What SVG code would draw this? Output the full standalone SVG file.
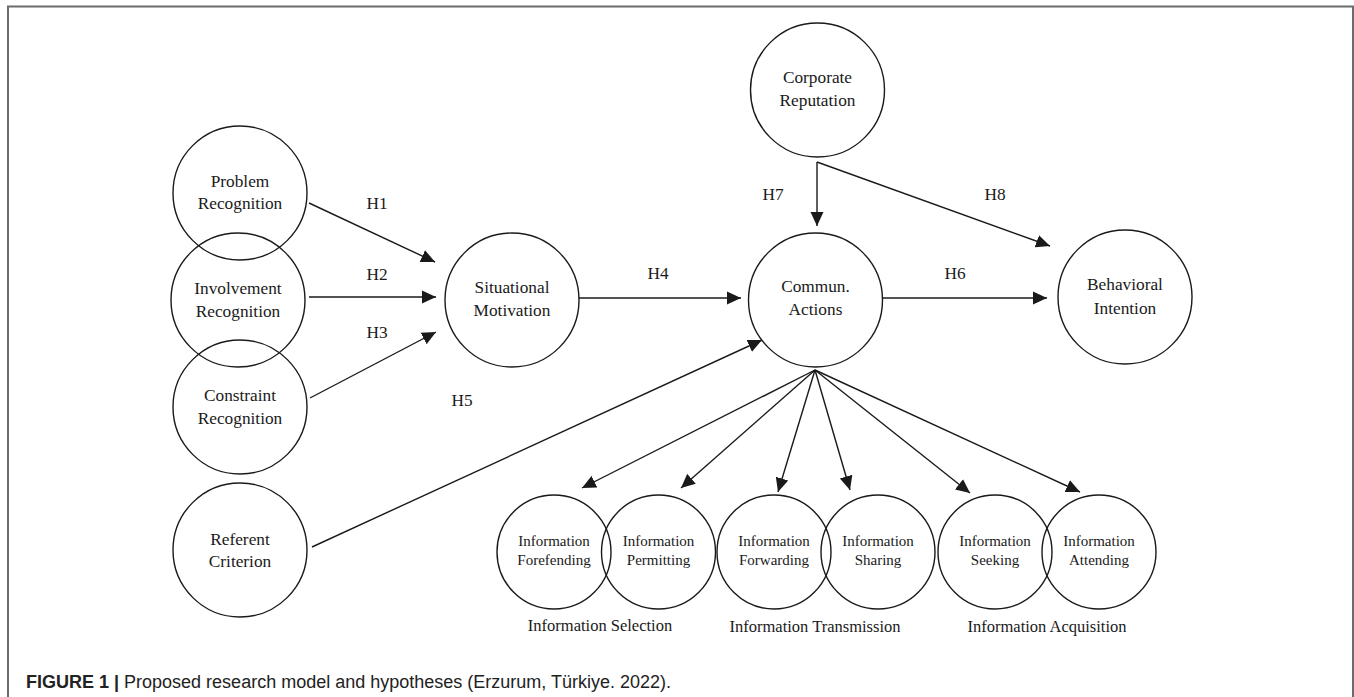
<svg xmlns="http://www.w3.org/2000/svg" width="1354" height="697" viewBox="0 0 1354 697">
<style>
.c{fill:none;stroke:#1a1a1a;stroke-width:1.4}
.t{font-family:"Liberation Serif","Times New Roman",serif;font-size:17.3px;fill:#1a1a1a;text-anchor:middle}
.s{font-family:"Liberation Serif","Times New Roman",serif;font-size:15px;fill:#1a1a1a;text-anchor:middle}
.g{font-family:"Liberation Serif","Times New Roman",serif;font-size:16.5px;fill:#1a1a1a;text-anchor:middle}
.l{stroke:#1a1a1a;stroke-width:1.4;fill:none;marker-end:url(#ah)}
.cap{font-family:"Liberation Sans",Arial,sans-serif;font-size:18px;fill:#222}
</style>
<defs>
<marker id="ah" markerUnits="userSpaceOnUse" viewBox="0 0 14 14" markerWidth="14" markerHeight="14" refX="14" refY="7" orient="auto">
<path d="M0,0.5 L14,7 L0,13.5 z" fill="#1a1a1a"/>
</marker>
</defs>
<rect width="1354" height="697" fill="#fff"/>
<path d="M8,697 V6.5 H1353 V697" fill="none" stroke="#6b6b6b" stroke-width="2"/>

<g id="problem-recognition"><circle class="c" cx="240" cy="193" r="67"/><text class="t" x="240" y="187">Problem</text><text class="t" x="240" y="209">Recognition</text></g>
<g id="involvement-recognition"><circle class="c" cx="238" cy="300" r="67"/><text class="t" x="238" y="294">Involvement</text><text class="t" x="238" y="317">Recognition</text></g>
<g id="constraint-recognition"><circle class="c" cx="240" cy="407" r="67"/><text class="t" x="240" y="401">Constraint</text><text class="t" x="240" y="424">Recognition</text></g>
<g id="referent-criterion"><circle class="c" cx="240" cy="550" r="67"/><text class="t" x="240" y="545">Referent</text><text class="t" x="240" y="567">Criterion</text></g>
<g id="situational-motivation"><circle class="c" cx="512" cy="300" r="67"/><text class="t" x="512" y="293">Situational</text><text class="t" x="512" y="316">Motivation</text></g>
<g id="commun-actions"><circle class="c" cx="815.5" cy="300" r="67"/><text class="t" x="815.5" y="292">Commun.</text><text class="t" x="815.5" y="315">Actions</text></g>
<g id="corporate-reputation"><circle class="c" cx="817.5" cy="90" r="67"/><text class="t" x="817.5" y="83">Corporate</text><text class="t" x="817.5" y="106">Reputation</text></g>
<g id="behavioral-intention"><circle class="c" cx="1125" cy="297" r="67"/><text class="t" x="1125" y="290">Behavioral</text><text class="t" x="1125" y="314">Intention</text></g>

<g id="information-forefending"><circle class="c" cx="554" cy="552" r="57"/><text class="s" x="554" y="546">Information</text><text class="s" x="554" y="565">Forefending</text></g>
<g id="information-permitting"><circle class="c" cx="658.5" cy="552" r="57"/><text class="s" x="658.5" y="546">Information</text><text class="s" x="658.5" y="565">Permitting</text></g>
<g id="information-forwarding"><circle class="c" cx="774" cy="552" r="57"/><text class="s" x="774" y="546">Information</text><text class="s" x="774" y="565">Forwarding</text></g>
<g id="information-sharing"><circle class="c" cx="878" cy="552" r="57"/><text class="s" x="878" y="546">Information</text><text class="s" x="878" y="565">Sharing</text></g>
<g id="information-seeking"><circle class="c" cx="995" cy="552" r="57"/><text class="s" x="995" y="546">Information</text><text class="s" x="995" y="565">Seeking</text></g>
<g id="information-attending"><circle class="c" cx="1099" cy="552" r="57"/><text class="s" x="1099" y="546">Information</text><text class="s" x="1099" y="565">Attending</text></g>

<g id="group-labels">
<text class="g" x="600" y="631">Information Selection</text>
<text class="g" x="815" y="632">Information Transmission</text>
<text class="g" x="1047" y="632">Information Acquisition</text>
</g>

<g id="connectors">
<line class="l" x1="309" y1="203" x2="435" y2="262"/>
<line class="l" x1="309" y1="297" x2="436" y2="297"/>
<line class="l" x1="310" y1="398" x2="436" y2="332"/>
<line class="l" x1="579" y1="298" x2="741" y2="298"/>
<line class="l" x1="883" y1="298" x2="1047" y2="298"/>
<line class="l" x1="312" y1="547" x2="762" y2="340"/>
<line class="l" x1="817" y1="162" x2="817" y2="226"/>
<line class="l" x1="817" y1="162" x2="1050" y2="246"/>
<line class="l" x1="815" y1="370" x2="582" y2="488"/>
<line class="l" x1="815" y1="370" x2="681" y2="488"/>
<line class="l" x1="815" y1="370" x2="778" y2="492"/>
<line class="l" x1="815" y1="370" x2="850" y2="490"/>
<line class="l" x1="815" y1="370" x2="970" y2="493"/>
<line class="l" x1="815" y1="370" x2="1080" y2="492"/>
</g>

<g id="connector-labels">
<text class="t" x="377" y="209">H1</text>
<text class="t" x="377" y="280">H2</text>
<text class="t" x="377" y="338">H3</text>
<text class="t" x="462" y="406">H5</text>
<text class="t" x="658" y="279">H4</text>
<text class="t" x="955" y="279">H6</text>
<text class="t" x="773" y="200">H7</text>
<text class="t" x="995" y="200">H8</text>
</g>

<text class="cap" x="26" y="688"><tspan font-weight="bold">FIGURE 1 |</tspan> Proposed research model and hypotheses (Erzurum, Türkiye. 2022).</text>
</svg>
